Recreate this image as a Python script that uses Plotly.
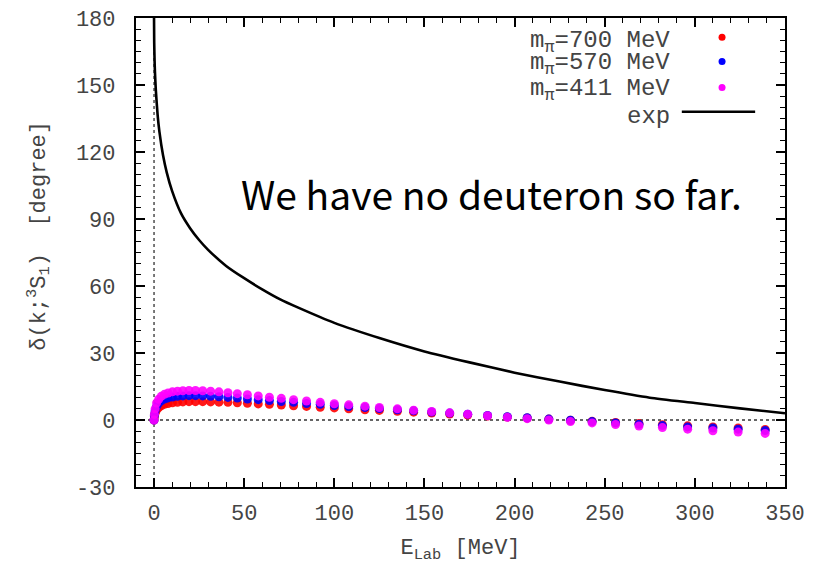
import plotly.graph_objects as go

# Experimental phase shift (solid line)
exp_E = [0.0, 0.1, 0.3, 0.5, 1, 2, 3, 5, 7, 10, 15, 20, 25, 30, 40, 50, 60, 70, 80,
         100, 125, 150, 175, 200, 225, 250, 275, 300, 325, 350]
exp_delta = [180, 169, 161, 156, 147.7, 136.5, 129, 118.5, 111, 102.6, 92.5, 85.9, 80.6,
             76.2, 69.0, 63.5, 58.5, 54.0, 50.3, 43.5, 36.7, 30.7, 25.8, 21.2, 17.2,
             13.4, 10.0, 7.6, 5.2, 3.0]

# Lattice data points (E_lab in MeV)
lat_E = [0.0, 0.2, 0.6, 1.4, 2.6, 4.0, 5.8, 7.8, 10.2, 13.0, 16.0, 19.4, 23.0, 27.0, 31.4,
         36.0, 41.0, 46.2, 51.8, 57.8, 64.0, 70.6, 77.4, 84.6, 92.2, 100, 108, 117, 125,
         135, 144, 154, 164, 174, 185, 196, 207, 219, 231, 243, 256, 269, 282, 296, 310,
         324, 339]
d700 = [0.0, 1.5, 3.0, 4.5, 5.6, 6.4, 7.0, 7.4, 7.7, 7.9, 8.1, 8.2, 8.2, 8.2, 8.1, 8.0,
        7.9, 7.7, 7.5, 7.2, 7.0, 6.7, 6.4, 6.1, 5.7, 5.4, 5.0, 4.6, 4.3, 3.9, 3.5, 3.1,
        2.7, 2.2, 1.8, 1.3, 0.9, 0.4, -0.1, -0.6, -1.1, -1.6, -2.1, -2.6, -3.1, -3.6, -4.2]
d570 = [0.0, 2.0, 4.0, 6.0, 7.6, 8.6, 9.4, 9.9, 10.3, 10.6, 10.8, 10.9, 10.9, 10.8, 10.6,
        10.4, 10.1, 9.8, 9.4, 9.1, 8.7, 8.3, 7.9, 7.4, 7.0, 6.5, 6.0, 5.6, 5.1, 4.6, 4.1,
        3.6, 3.1, 2.6, 2.0, 1.5, 1.0, 0.4, -0.1, -0.7, -1.3, -1.9, -2.5, -3.1, -3.6, -4.1, -4.7]
d411 = [0.0, 2.5, 5.0, 7.6, 9.3, 10.6, 11.5, 12.1, 12.6, 12.9, 13.1, 13.2, 13.2, 13.1, 12.9,
        12.6, 12.2, 11.8, 11.3, 10.8, 10.2, 9.7, 9.1, 8.5, 7.9, 7.3, 6.8, 6.2, 5.6, 5.0, 4.4,
        3.8, 3.2, 2.6, 1.9, 1.2, 0.6, 0.0, -0.7, -1.3, -2.0, -2.7, -3.4, -4.1, -4.8, -5.4, -6.0]

series = [
    ("m<sub>π</sub>=700 MeV", d700, "#ff0000"),
    ("m<sub>π</sub>=570 MeV", d570, "#0000ff"),
    ("m<sub>π</sub>=411 MeV", d411, "#ff00ff"),
]

x_ticks = [0, 50, 100, 150, 200, 250, 300, 350]
y_ticks = [-30, 0, 30, 60, 90, 120, 150, 180]

MONO = "Liberation Mono, Courier New, monospace"
TXT = "#444444"

fig = go.Figure()

# dotted zero lines
fig.add_shape(type="line", xref="x", yref="paper", x0=0, x1=0, y0=0, y1=1,
              line=dict(color="#333", width=1.3, dash="dot"), layer="below")
fig.add_shape(type="line", xref="paper", yref="y", x0=0, x1=1, y0=0, y1=0,
              line=dict(color="#333", width=1.3, dash="dot"), layer="below")

for name, vals, col in series:
    fig.add_trace(go.Scatter(x=lat_E, y=vals, mode="markers", name=name,
                             marker=dict(color=col, size=9, opacity=0.9, line=dict(width=0)),
                             showlegend=False))

fig.add_trace(go.Scatter(x=exp_E, y=exp_delta, mode="lines", name="exp",
                         line=dict(color="black", width=2.6, shape="spline", smoothing=0.6),
                         showlegend=False))

# gnuplot-style key (text on the left, sample on the right)
key_text_y = [0.949, 0.901, 0.847, 0.790]
key_dot_y = [0.959, 0.907, 0.852]
key_text_x = 0.826
key_sample_x = 0.903
for (name, vals, col), ty, dy in zip(series, key_text_y[:3], key_dot_y):
    fig.add_annotation(x=key_text_x, y=ty, xref="paper", yref="paper", text=name,
                       showarrow=False, xanchor="right", yanchor="middle",
                       font=dict(family=MONO, size=24, color=TXT))
    fig.add_shape(type="circle", xref="paper", yref="paper", xsizemode="pixel",
                  ysizemode="pixel", xanchor=key_sample_x, yanchor=dy,
                  x0=-3.5, x1=3.5, y0=-3.5, y1=3.5, fillcolor=col, line=dict(width=0))
fig.add_annotation(x=key_text_x, y=key_text_y[3], xref="paper", yref="paper", text="exp",
                   showarrow=False, xanchor="right", yanchor="middle",
                   font=dict(family=MONO, size=24, color=TXT))
fig.add_shape(type="line", xref="paper", yref="paper", x0=0.841, x1=0.954,
              y0=0.8, y1=0.8, line=dict(color="black", width=2.6))

fig.add_annotation(x=0.547, y=0.627, xref="paper", yref="paper",
                   text="We have no deuteron so far.", showarrow=False,
                   xanchor="center", yanchor="middle",
                   font=dict(family="Noto Sans CJK JP, Noto Sans, sans-serif", size=39,
                             color="black"))

# y-axis title
fig.add_annotation(x=-0.15, y=0.535, xref="paper", yref="paper", textangle=-90,
                   text="δ(k;<sup>3</sup>S<sub>1</sub>)&nbsp;&nbsp;[degree]",
                   showarrow=False, xanchor="center", yanchor="middle",
                   font=dict(family=MONO, size=22, color=TXT))

axis_common = dict(showline=True, linecolor="black", linewidth=2.2, mirror="ticks",
                   ticks="inside", ticklen=9, tickwidth=1.6, tickcolor="black",
                   showgrid=False, zeroline=False, automargin=False,
                   tickfont=dict(family=MONO, size=22, color=TXT))

fig.update_xaxes(range=[-10, 350], tickvals=x_ticks, ticktext=[str(v) for v in x_ticks],
                 ticklabelstandoff=4,
                 minor=dict(ticks="inside", dtick=10, tick0=0, ticklen=5, tickwidth=1.4,
                            tickcolor="black"),
                 title=dict(text="E<sub>Lab</sub> [MeV]", standoff=13,
                            font=dict(family=MONO, size=22, color=TXT)),
                 **axis_common)
fig.update_yaxes(range=[-30, 180], tickvals=y_ticks, ticktext=[str(v) for v in y_ticks],
                 ticklabelstandoff=14,
                 minor=dict(ticks="inside", dtick=5, tick0=0, ticklen=5, tickwidth=1.4,
                            tickcolor="black"),
                 **axis_common)

fig.update_layout(width=825, height=564, margin=dict(l=136, r=40, t=18, b=77),
                  paper_bgcolor="white", plot_bgcolor="white", showlegend=False)

fig.write_html("out.html")
